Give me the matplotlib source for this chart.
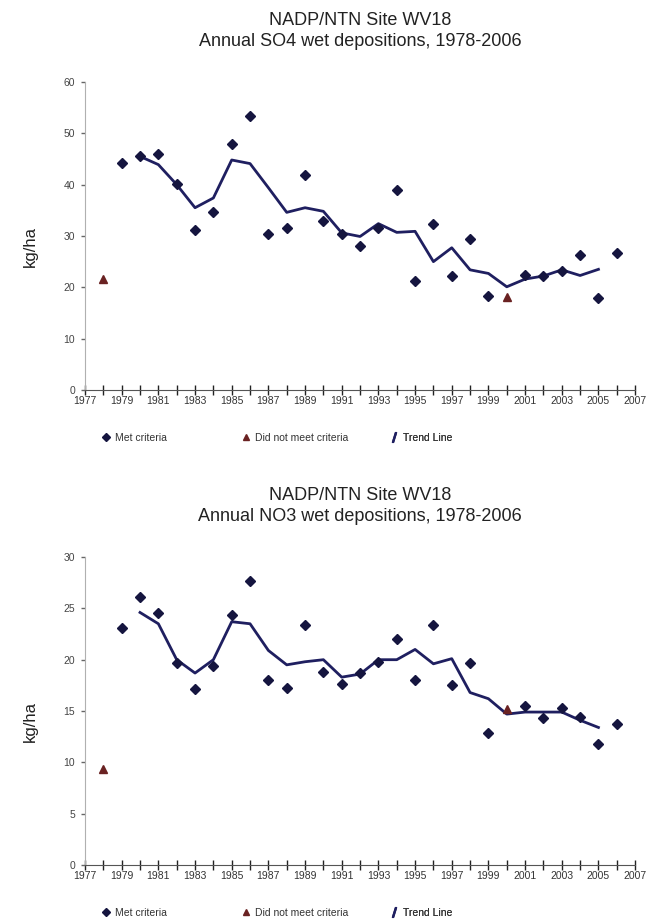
import numpy as np
import matplotlib
matplotlib.use("Agg")
import matplotlib.pyplot as plt
from matplotlib.lines import Line2D

plt.rcParams['font.family'] = ['Liberation Sans', 'DejaVu Sans']

years = list(range(1978, 2007))
not_met_years = [1978, 2000]
trend_years = list(range(1980, 2006))

so4 = [21.6, 44.2, 45.6, 46.0, 40.2, 31.2, 34.7, 47.9, 53.4, 30.4, 31.6, 41.9, 32.9, 30.4, 28.1,
       31.6, 38.9, 21.2, 32.4, 22.2, 29.4, 18.4, 18.1, 22.4, 22.2, 23.1, 26.3, 17.9, 26.6]
so4_trend = [45.5, 43.9, 40.0, 35.5, 37.4, 44.8, 44.1, 39.4, 34.6, 35.5, 34.8, 30.6, 29.9,
             32.4, 30.7, 30.9, 25.0, 27.7, 23.4, 22.7, 20.1, 21.6, 22.2, 23.4, 22.3, 23.5]

no3 = [9.4, 23.1, 26.1, 24.5, 19.7, 17.1, 19.4, 24.4, 27.7, 18.0, 17.2, 23.4, 18.8, 17.6, 18.7,
       19.8, 22.0, 18.0, 23.4, 17.5, 19.7, 12.9, 15.2, 15.5, 14.3, 15.3, 14.4, 11.8, 13.7]
no3_trend = [24.6, 23.5, 20.0, 18.7, 20.0, 23.7, 23.5, 20.9, 19.5, 19.8, 20.0, 18.3, 18.6,
             20.0, 20.0, 21.0, 19.6, 20.1, 16.8, 16.2, 14.7, 14.9, 14.9, 14.9, 14.1, 13.4]

pt_color = '#15153f'
tri_color = '#6a2222'
line_color = '#1f1f60'


def draw(ax, values, trend, ymax, ystep, title):
    yrs = np.array(years)
    vals = np.array(values)
    bad = np.isin(yrs, not_met_years)
    ax.plot(trend_years, trend, color=line_color, lw=2, zorder=2)
    ax.plot(yrs[~bad], vals[~bad], 'D', color=pt_color, ms=5, zorder=3)
    ax.plot(yrs[bad], vals[bad], '^', color=tri_color, ms=6, zorder=3)

    ax.set_xlim(1977, 2007)
    ax.set_ylim(0, ymax)
    ax.set_xticks(range(1977, 2008))
    ax.set_xticklabels([str(y) if (y - 1977) % 2 == 0 else '' for y in range(1977, 2008)])
    ax.set_yticks(np.arange(0, ymax + 1, ystep))
    ax.tick_params(axis='x', direction='inout', length=7, width=1, color='#222222',
                   labelsize=7.5, labelcolor='#333333', pad=1)
    ax.tick_params(axis='y', direction='out', length=3, width=1, color='#666666',
                   labelsize=7.5, labelcolor='#444444', pad=4)
    for s in ['top', 'right']:
        ax.spines[s].set_visible(False)
    ax.spines['left'].set_color('#b0b0b0')
    ax.spines['bottom'].set_color('#555555')
    ax.set_ylabel('kg/ha', fontsize=12, color='#222222')
    ax.yaxis.set_label_coords(-0.085, 0.465)
    ax.set_title('NADP/NTN Site WV18\n' + title, fontsize=13, color='#222222',
                 pad=26, linespacing=1.3)

    handles = [
        (Line2D([], [], marker='D', color=pt_color, ls='none', ms=4), 'Met criteria', 0.03),
        (Line2D([], [], marker='^', color=tri_color, ls='none', ms=5), 'Did not meet criteria', 0.285),
        (Line2D([], [], marker='$/$', color=line_color, ls='none', ms=7), 'Trend Line', 0.554),
    ]
    for h, lab, x in handles:
        leg = ax.legend([h], [lab], loc='center left', bbox_to_anchor=(x, -0.155),
                        frameon=False, fontsize=7.5, handlelength=0.8, handletextpad=0.5,
                        borderpad=0, borderaxespad=0)
        for t in leg.get_texts():
            t.set_color('#333333')
        ax.add_artist(leg)


fig = plt.figure(figsize=(6.51, 9.23), dpi=100)
ax1 = fig.add_axes([0.1306, 0.5775, 0.845, 0.3337])
ax2 = fig.add_axes([0.1306, 0.0628, 0.845, 0.3337])

draw(ax1, so4, so4_trend, 60, 10, 'Annual SO4 wet depositions, 1978-2006')
draw(ax2, no3, no3_trend, 30, 5, 'Annual NO3 wet depositions, 1978-2006')

fig.savefig('out.png', dpi=100)
